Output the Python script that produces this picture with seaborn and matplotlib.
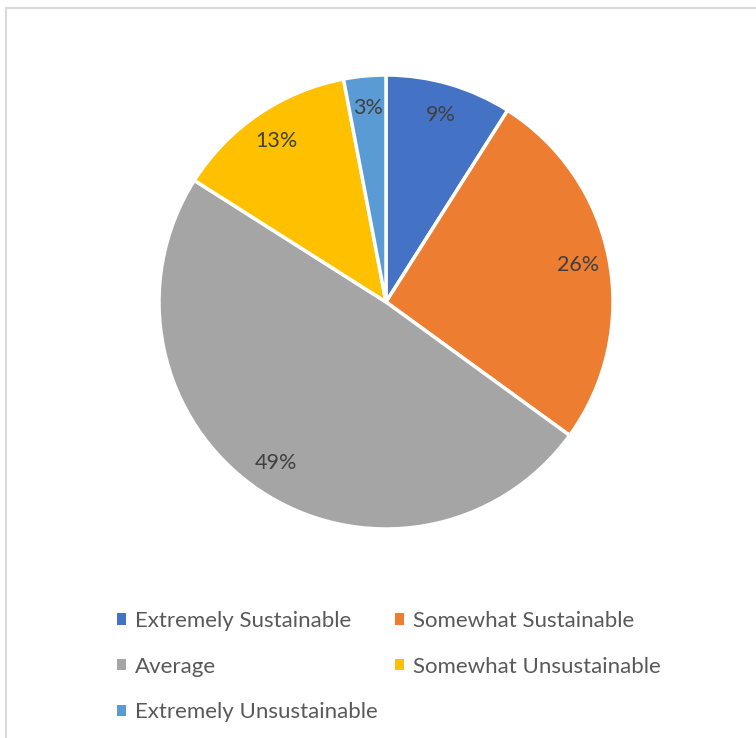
import matplotlib
matplotlib.use("Agg")
import matplotlib.pyplot as plt
from matplotlib.patches import Patch
from matplotlib.lines import Line2D
import seaborn as sns

categories = ["Extremely Sustainable", "Somewhat Sustainable", "Average",
              "Somewhat Unsustainable", "Extremely Unsustainable"]
shares = [9, 26, 49, 13, 3]
colors = ["#4472C4", "#ED7D31", "#A5A5A5", "#FFC000", "#5B9BD5"]

sns.set_theme(style="white")
plt.rcParams["font.family"] = ["Lato", "DejaVu Sans"]

W, H = 756, 738
fig = plt.figure(figsize=(W / 100, H / 100), dpi=100)
fig.patch.set_facecolor("white")

# chart frame (top and left edges visible)
fig.add_artist(Line2D([5.5 / W, 5.5 / W], [0, 1 - 8 / H], transform=fig.transFigure,
                      color="#D9D9D9", lw=1.5))
fig.add_artist(Line2D([5.5 / W, 1], [1 - 8 / H, 1 - 8 / H], transform=fig.transFigure,
                      color="#D9D9D9", lw=1.5))

cx, cy, r = 386, 302, 227
ax = fig.add_axes([(cx - r) / W, (H - cy - r) / H, 2 * r / W, 2 * r / H])
wedges, texts, autotexts = ax.pie(
    shares, colors=colors, startangle=90, counterclock=False,
    autopct=lambda p: f"{p:.0f}%", pctdistance=0.86,
    wedgeprops=dict(edgecolor="white", linewidth=2.5),
    textprops=dict(color="#404040", fontsize=15.5),
)
ax.set_xlim(-1, 1)
ax.set_ylim(-1, 1)
ax.set_aspect("equal")
ax.axis("off")

handles = [Patch(facecolor=c, edgecolor="none") for c in colors]
order = [0, 2, 4, 1, 3]
fig.legend([handles[i] for i in order], [categories[i] for i in order],
           ncol=2, loc="upper left", bbox_to_anchor=(117 / W, 1 - 611 / H),
           frameon=False, fontsize=16, labelcolor="#595959",
           borderpad=0, borderaxespad=0,
           handlelength=0.4, handleheight=0.4, handletextpad=0.4,
           columnspacing=0.8, labelspacing=1.15)

fig.savefig("out.png", dpi=100)
